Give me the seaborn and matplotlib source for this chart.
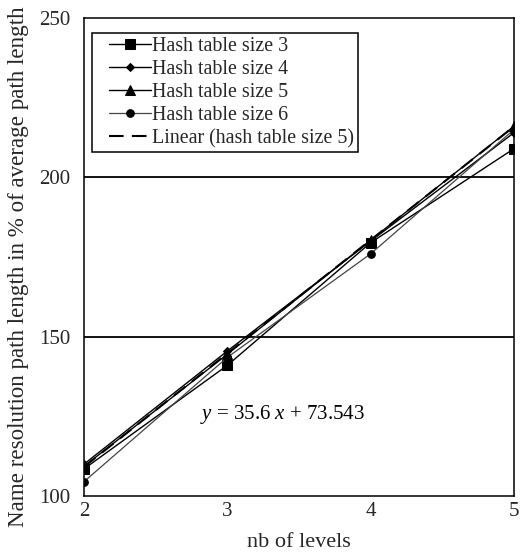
import numpy as np
import pandas as pd
import matplotlib
matplotlib.use("Agg")
import matplotlib.pyplot as plt
from matplotlib.patches import Rectangle
import seaborn as sns

levels = [2, 3, 4, 5]
size3 = [108.5, 141.0, 179.5, 209.0]
size4 = [110.0, 145.5, 180.0, 214.0]
size5 = [109.32, 144.5, 180.3, 216.05]
size6 = [104.5, 143.5, 176.0, 215.0]
series_names = ["Hash table size 3", "Hash table size 4",
                "Hash table size 5", "Hash table size 6"]
fit_label = "Linear (hash table size 5)"
equation = "$y$ = 35.6 $x$ + 73.543"
yticks = [100, 150, 200, 250]

sns.set_theme(style="white")
plt.rcParams["font.family"] = ["Liberation Serif", "DejaVu Serif"]
plt.rcParams["mathtext.fontset"] = "custom"
plt.rcParams["mathtext.it"] = "Liberation Serif:italic"
plt.rcParams["mathtext.rm"] = "Liberation Serif"

df = pd.DataFrame({
    "level": levels * 4,
    "value": size3 + size4 + size5 + size6,
    "series": sum([[n] * 4 for n in series_names], []),
})

W, H = 521, 553
fig = plt.figure(figsize=(W / 100, H / 100), dpi=100)
ax = fig.add_axes([84 / W, 1 - 496 / H, 430 / W, 478 / H])

styles = {
    series_names[0]: dict(marker="s", ms=7, color="black", lw=1.0),
    series_names[1]: dict(marker="D", ms=4.5, color="black", lw=1.0),
    series_names[2]: dict(marker="^", ms=7, color="black", lw=1.0),
    series_names[3]: dict(marker="o", ms=5.5, color="#444444", lw=0.9),
}
for name in series_names:
    sub = df[df["series"] == name]
    st = styles[name]
    sns.lineplot(data=sub, x="level", y="value", ax=ax, color=st["color"],
                 lw=st["lw"], marker=st["marker"], markersize=st["ms"],
                 markeredgecolor="black", markerfacecolor="black",
                 label=name, legend=False)

# least-squares trend line for hash table size 5
coef = np.polyfit(levels, size5, 1)
xs = np.array(levels, dtype=float)
sns.lineplot(x=xs, y=np.polyval(coef, xs), ax=ax, color="black", lw=1.5,
             label=fit_label, legend=False)
ax.lines[-1].set_dashes((7, 4))

ax.set_xlim(2, 5)
ax.set_ylim(100, 250)
ax.set_xticks(levels)
ax.set_yticks(yticks)
for yv in [150, 200]:
    ax.axhline(yv, color="black", lw=1.3, zorder=0)

for s in ax.spines.values():
    s.set_color("black")
    s.set_linewidth(1.1)
    s.set_visible(True)
ax.tick_params(axis="both", direction="in", length=4, color="black",
               labelsize=15)
ax.tick_params(axis="x", pad=4)
ax.tick_params(axis="y", pad=10)
ax.set_xlabel("nb of levels", fontsize=16, labelpad=9)
ax.set_ylabel("Name resolution path length in % of average path length",
              fontsize=16.6)
ax.yaxis.set_label_coords(-0.128, 0.479)

ax.text(2.81, 125.5, equation, fontsize=15, color="black", va="center")

leg = ax.legend(loc="upper left", bbox_to_anchor=(0.0488, 0.9686),
                fontsize=14.4, frameon=False, handlelength=2.1,
                handletextpad=0.05, borderpad=0.2, labelspacing=0.2,
                borderaxespad=0.0)
leg.set_zorder(6)

# legend box with a wider left margin than the default frame
fig.canvas.draw()
bb = leg.get_window_extent().transformed(fig.transFigure.inverted())
pad_left = 13 / W
frame = Rectangle((bb.x0 - pad_left, bb.y0), bb.width + pad_left, bb.height,
                  transform=fig.transFigure, facecolor="white",
                  edgecolor="black", lw=1.1, zorder=5, clip_on=False)
ax.add_patch(frame)

fig.savefig("out.png", dpi=100)
